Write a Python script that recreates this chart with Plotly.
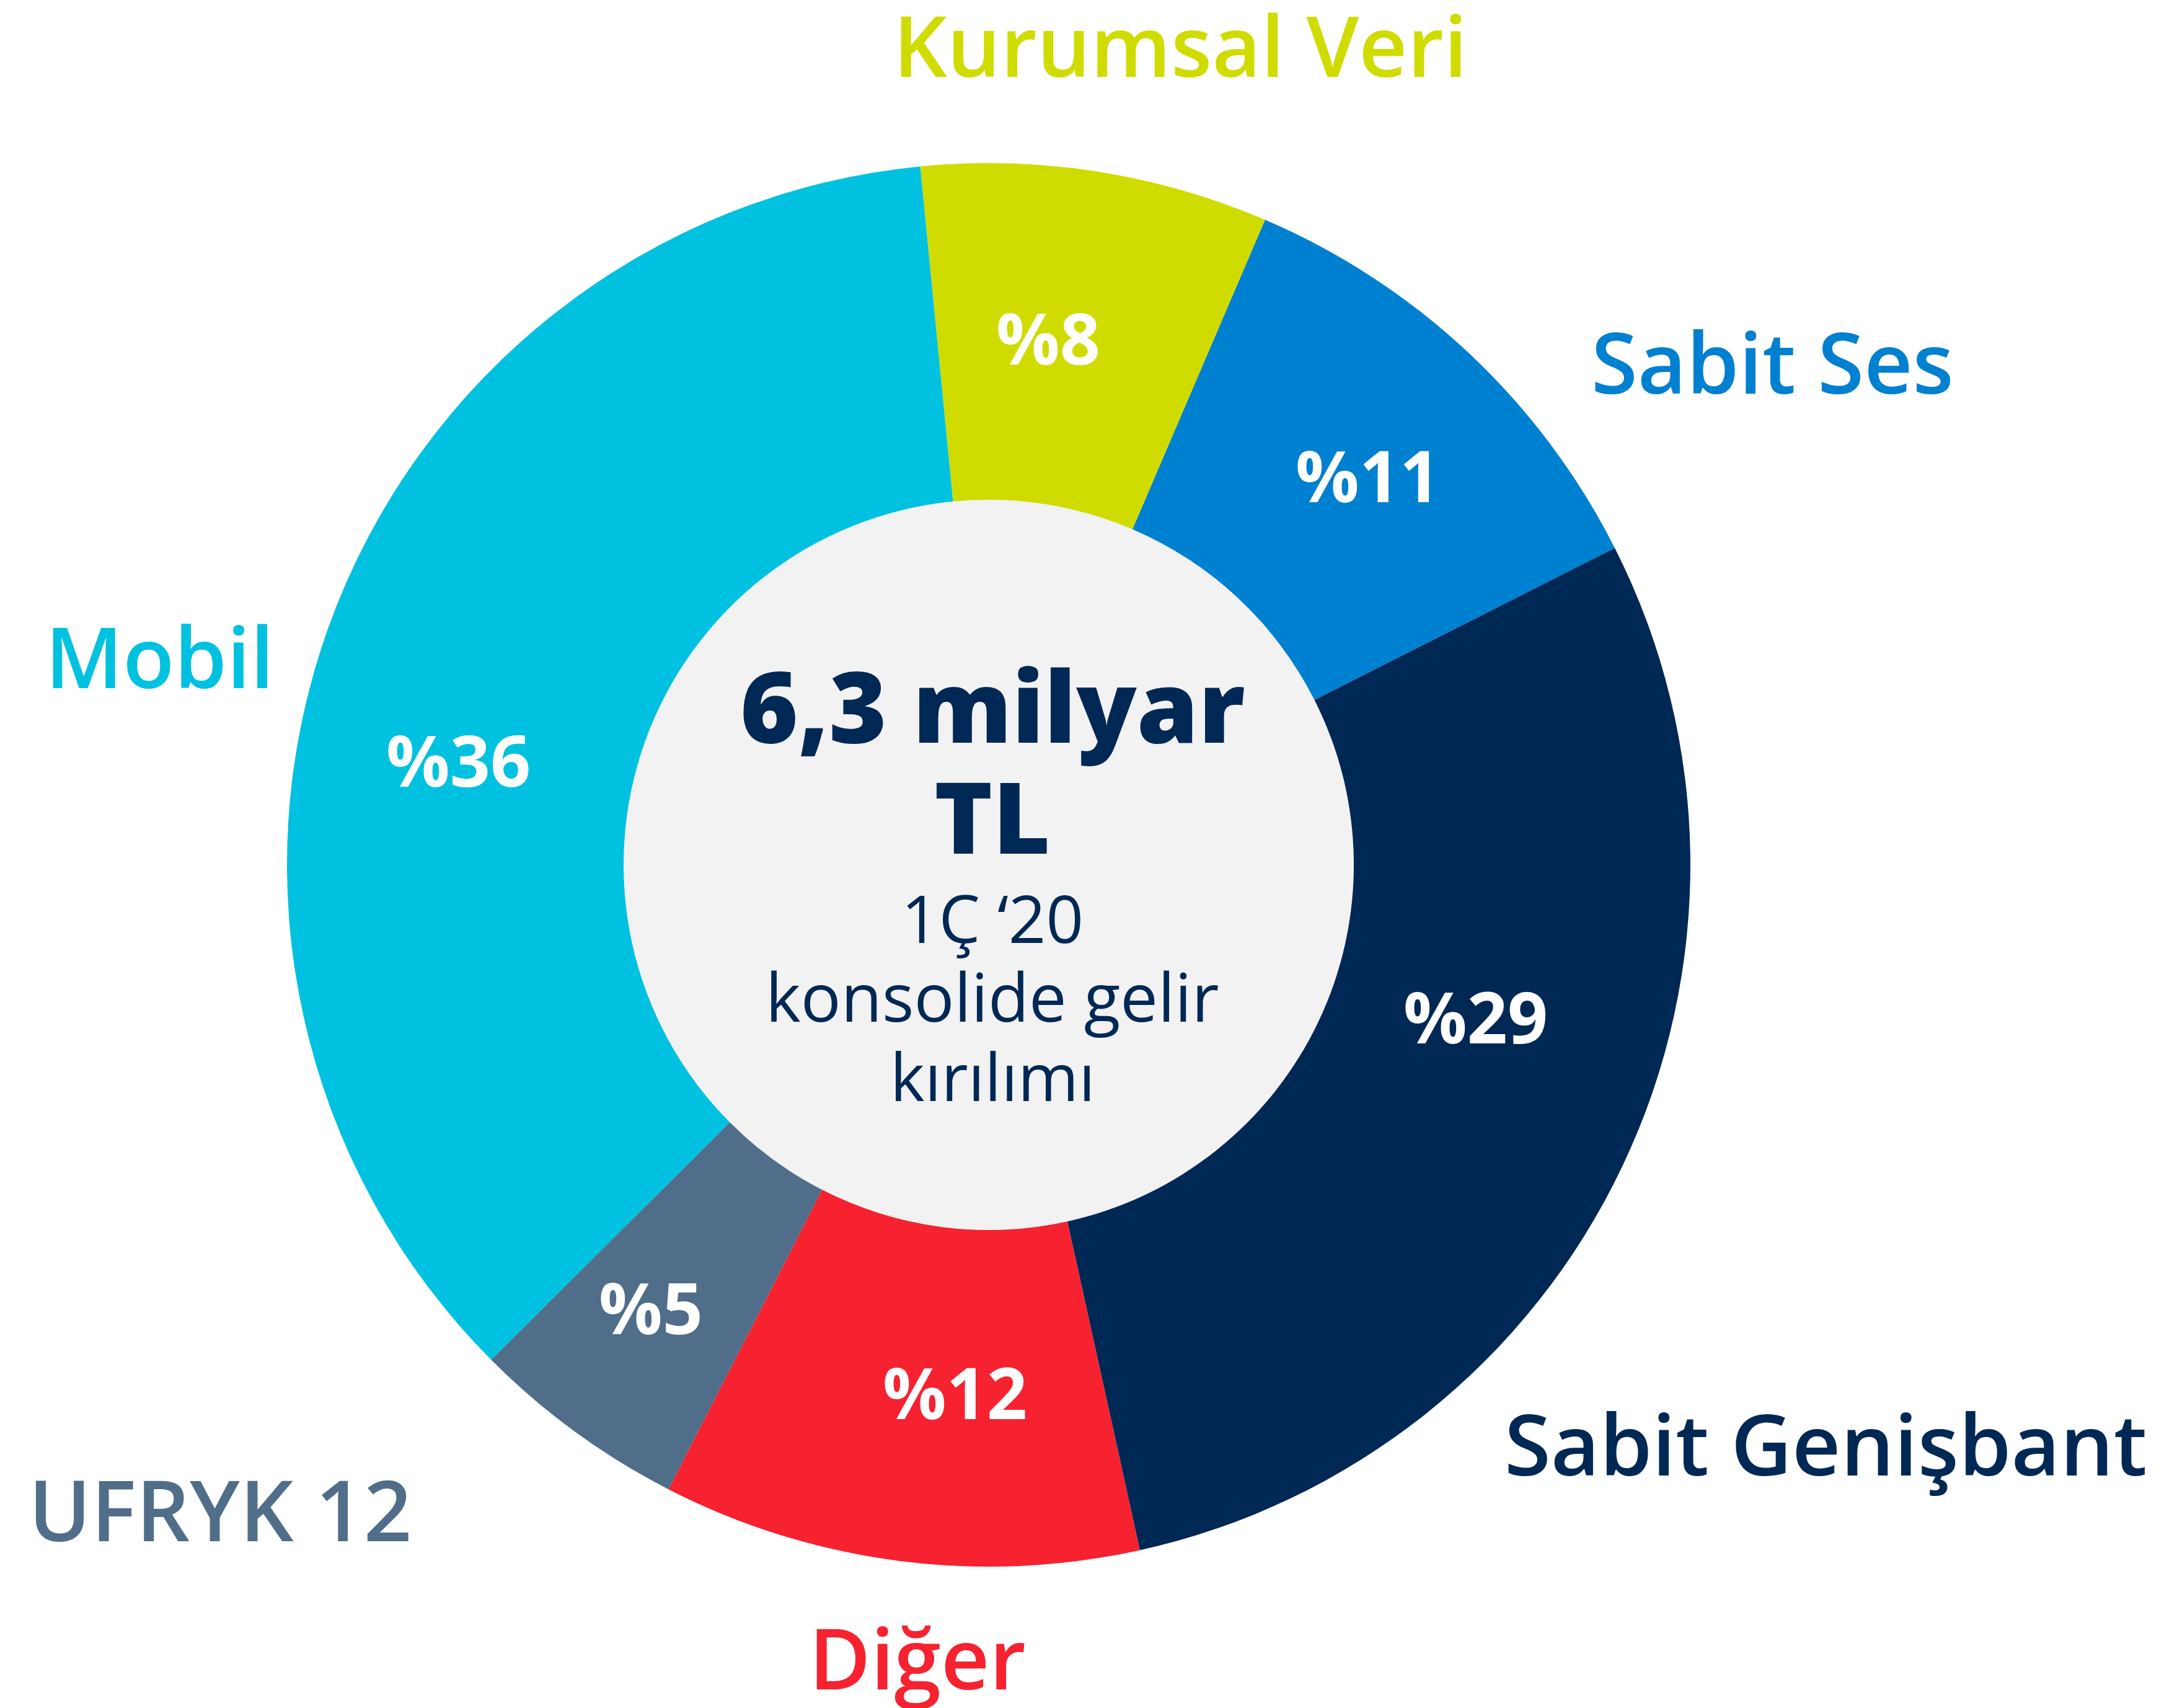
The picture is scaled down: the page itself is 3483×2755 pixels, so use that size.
import plotly.graph_objects as go

# ---- data ----
categories = ["Kurumsal Veri", "Sabit Ses", "Sabit Genişbant", "Diğer", "UFRYK 12", "Mobil"]
shares = [8.0, 11.1, 29.0, 11.0, 5.0, 35.9]          # slice sizes
share_labels = ["%8", "%11", "%29", "%12", "%5", "%36"]  # labels as printed
colors = ["#d0dc00", "#0080d0", "#002855", "#f62230", "#506e89", "#00c1e0"]
center_lines = ["6,3 milyar", "TL", "1Ç ‘20", "konsolide gelir", "kırılımı"]

W, H = 3483, 2755
FONT = "Open Sans"
CX, CY, R_OUT, R_IN = 1587, 1387, 1132, 589

def px(x, y):
    return x / W, 1 - y / H

fig = go.Figure()
fig.add_trace(go.Pie(
    labels=categories,
    values=shares,
    marker=dict(colors=colors, line=dict(width=0)),
    hole=R_IN / R_OUT,
    sort=False,
    direction="clockwise",
    rotation=-5.6,
    textinfo="none",
    hoverinfo="label+percent",
    showlegend=False,
    domain=dict(x=[(CX - R_OUT) / W, (CX + R_OUT) / W],
                y=[1 - (CY + R_OUT) / H, 1 - (CY - R_OUT) / H]),
))

# gray centre disc
cx0, cy0 = px(CX - R_IN, CY + R_IN)
cx1, cy1 = px(CX + R_IN, CY - R_IN)
fig.add_shape(type="circle", xref="paper", yref="paper", x0=cx0, y0=cy0, x1=cx1, y1=cy1,
              fillcolor="#f2f2f2", line=dict(width=0), layer="below")

annotations = []
# outer category labels
outer_pos = [(1896, 64), (2851, 575), (2937, 2319), (1472, 2664), (347, 2425), (249, 1049)]
for name, col, (x, y) in zip(categories, colors, outer_pos):
    ax, ay = px(x, y)
    annotations.append(dict(x=ax, y=ay, xref="paper", yref="paper", text=name, showarrow=False,
                            xanchor="center", yanchor="middle",
                            font=dict(family=FONT, size=136, color=col, weight=600)))

# inside percentage labels
inner_pos = [(1683, 535), (2198, 757), (2372, 1630), (1532, 2236), (1042, 2099), (731, 1216)]
for t, (x, y) in zip(share_labels, inner_pos):
    ax, ay = px(x, y)
    annotations.append(dict(x=ax, y=ay, xref="paper", yref="paper", text=t, showarrow=False,
                            xanchor="center", yanchor="middle",
                            font=dict(family=FONT, size=114, color="white", weight=700)))

# centre text
center_y = [1128, 1307, 1472, 1598, 1727]
center_size = [160, 160, 106, 108, 106]
center_weight = [800, 800, 400, 400, 400]
for t, y, s, wgt in zip(center_lines, center_y, center_size, center_weight):
    ax, ay = px(1593, y)
    annotations.append(dict(x=ax, y=ay, xref="paper", yref="paper", text=t, showarrow=False,
                            xanchor="center", yanchor="middle",
                            font=dict(family=FONT, size=s, color="#002855", weight=wgt)))

fig.update_layout(
    width=W, height=H,
    margin=dict(l=0, r=0, t=0, b=0),
    paper_bgcolor="white", plot_bgcolor="white",
    annotations=annotations,
)

fig.write_html("out.html")
